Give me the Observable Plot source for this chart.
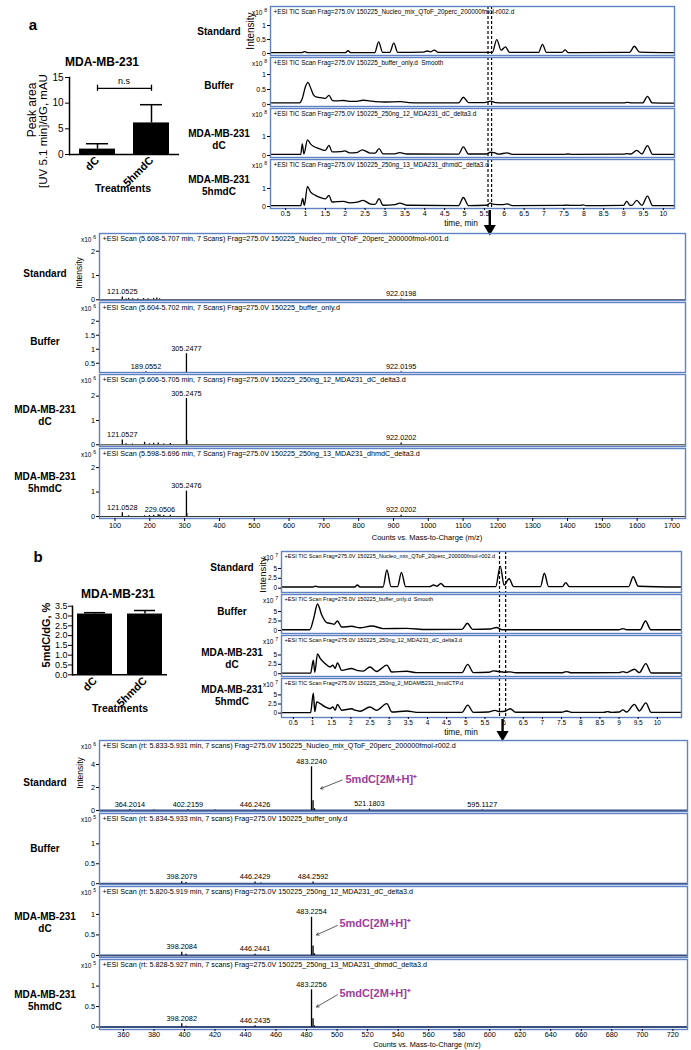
<!DOCTYPE html>
<html><head><meta charset="utf-8">
<script src="https://cdn.jsdelivr.net/npm/d3@7"></script>
<script src="https://cdn.jsdelivr.net/npm/@observablehq/plot@0.6"></script>
<style>
body{margin:0;background:#fff;}
#fig{position:relative;width:691px;height:1050px;overflow:hidden;font-family:"Liberation Sans",Arial,sans-serif;color:#000;background:#fff;}
#fig svg{position:absolute;}
</style></head><body><div id="fig"></div>
<script>
// ---------------- DATA ----------------
const barCategories = ["dC", "5hmdC"];
const barA_values = [1.05, 6.15];
const barA_errTop = [2.1, 9.7];
const barA_nsY = 12.9;
const barA_yTicks = [0, 5, 10, 15];
const barB_values = [3.1, 3.1];
const barB_errTop = [3.17, 3.28];
const barB_yTicks = [0, 0.5, 1, 1.5, 2, 2.5, 3, 3.5];

const ticTicks = [0.5,1,1.5,2,2.5,3,3.5,4,4.5,5,5.5,6,6.5,7,7.5,8,8.5,9,9.5,10];
const ticA_cut = [5.59, 5.68];
const ticB_cut = [5.88, 6.04];

const ticA_standard = [[0.12,0.03],[0.9,0.03],[0.98,0.07],[1.06,0.03],[2.0,0.03],[2.07,0.1],[2.14,0.03],[2.74,0.03],[2.84,0.42],[2.94,0.04],[3.12,0.04],[3.22,0.37],[3.32,0.04],[3.95,0.05],[4.06,0.09],[4.14,0.06],[4.24,0.12],[4.34,0.04],[5.7,0.04],[5.81,0.5],[5.92,0.12],[6.03,0.24],[6.13,0.04],[6.86,0.04],[6.96,0.33],[7.06,0.04],[7.45,0.04],[7.53,0.13],[7.61,0.03],[9.15,0.04],[9.27,0.26],[9.4,0.05],[10.28,0.03]];
const ticA_buffer = [[0.12,0.05],[0.85,0.05],[0.92,0.2],[1.0,0.6],[1.06,0.74],[1.13,0.55],[1.2,0.32],[1.29,0.24],[1.42,0.22],[1.5,0.2],[1.59,0.3],[1.68,0.13],[1.8,0.12],[1.96,0.13],[2.1,0.1],[2.25,0.1],[2.45,0.14],[2.6,0.12],[2.75,0.09],[3.0,0.08],[3.39,0.09],[3.6,0.06],[3.9,0.05],[4.85,0.05],[4.97,0.24],[5.1,0.06],[5.5,0.06],[5.66,0.11],[5.78,0.06],[6.0,0.05],[9.0,0.05],[9.1,0.07],[9.2,0.05],[9.48,0.05],[9.6,0.27],[9.72,0.05],[10.28,0.04]];
const ticA_dC = [[0.12,0.06],[0.88,0.06],[0.92,0.61],[0.96,0.08],[1.05,0.82],[1.13,0.6],[1.21,0.47],[1.34,0.36],[1.42,0.3],[1.5,0.27],[1.59,0.53],[1.67,0.19],[1.87,0.2],[1.99,0.24],[2.11,0.14],[2.28,0.15],[2.43,0.3],[2.62,0.13],[2.75,0.12],[2.85,0.36],[2.95,0.09],[3.25,0.09],[3.37,0.15],[3.55,0.08],[4.85,0.07],[4.97,0.45],[5.1,0.08],[5.55,0.08],[5.65,0.17],[5.74,0.15],[5.86,0.07],[6.07,0.14],[6.2,0.06],[7.5,0.06],[7.6,0.08],[7.7,0.06],[9.0,0.07],[9.08,0.1],[9.18,0.08],[9.33,0.27],[9.46,0.08],[9.6,0.52],[9.73,0.06],[10.28,0.06]];
const ticA_5hmdC = [[0.12,0.05],[0.88,0.05],[0.93,0.45],[0.97,0.06],[1.05,1.12],[1.13,0.8],[1.25,0.62],[1.38,0.49],[1.5,0.42],[1.59,0.62],[1.67,0.25],[1.8,0.27],[1.96,0.28],[2.11,0.2],[2.3,0.24],[2.45,0.34],[2.62,0.15],[2.75,0.12],[2.85,0.44],[2.95,0.07],[3.25,0.1],[3.37,0.19],[3.55,0.07],[4.85,0.05],[4.97,0.5],[5.1,0.05],[5.55,0.07],[5.65,0.19],[5.74,0.12],[5.95,0.1],[6.07,0.15],[6.2,0.05],[7.5,0.06],[7.57,0.08],[7.65,0.06],[7.92,0.06],[7.98,0.09],[8.05,0.05],[9.0,0.06],[9.08,0.3],[9.16,0.06],[9.22,0.08],[9.33,0.34],[9.46,0.06],[9.6,0.58],[9.73,0.05],[10.28,0.05]];

const ticB_standard = [[0.19,0.3],[1.0,0.3],[1.08,0.5],[1.16,0.3],[2.1,0.3],[2.17,0.8],[2.24,0.3],[2.84,0.3],[2.94,4.6],[3.05,0.4],[3.22,0.4],[3.32,4.0],[3.43,0.4],[4.05,0.4],[4.16,0.8],[4.25,0.5],[4.35,1.2],[4.45,0.4],[5.78,0.4],[5.9,5.6],[6.0,0.8],[6.13,2.4],[6.25,0.4],[6.95,0.4],[7.05,3.8],[7.16,0.4],[7.52,0.4],[7.61,1.4],[7.7,0.4],[9.25,0.4],[9.37,2.9],[9.5,0.5],[10.63,0.3]];
const ticB_buffer = [[0.19,0.2],[0.93,0.2],[1.03,3.2],[1.13,7.0],[1.24,4.1],[1.37,2.1],[1.5,1.8],[1.56,1.6],[1.65,2.5],[1.76,0.9],[2.02,1.1],[2.24,0.7],[2.55,1.2],[2.85,0.5],[3.46,0.55],[3.98,0.25],[4.9,0.3],[5.04,1.9],[5.18,0.3],[5.65,0.4],[5.8,0.8],[5.95,0.2],[9.0,0.2],[9.1,0.5],[9.2,0.2],[9.55,0.2],[9.69,2.5],[9.83,0.2],[10.63,0.2]];
const ticB_dC = [[0.19,0.15],[0.95,0.15],[1.02,3.6],[1.06,0.4],[1.13,5.3],[1.2,4.1],[1.33,2.7],[1.46,1.8],[1.53,2.3],[1.59,1.4],[1.65,2.9],[1.76,0.9],[2.02,1.4],[2.15,0.9],[2.32,0.7],[2.5,1.8],[2.67,0.6],[2.94,2.3],[3.07,0.45],[3.46,0.65],[3.72,0.3],[4.9,0.3],[5.05,2.5],[5.2,0.3],[5.6,0.4],[5.72,0.75],[5.85,0.6],[6.0,0.4],[6.16,0.5],[6.3,0.25],[7.5,0.25],[7.63,0.55],[7.76,0.25],[9.0,0.3],[9.1,0.55],[9.2,0.3],[9.4,1.2],[9.53,0.3],[9.7,2.7],[9.84,0.2],[10.63,0.2]];
const ticB_5hmdC = [[0.19,0.15],[0.95,0.15],[1.02,5.5],[1.06,0.4],[1.11,3.1],[1.2,2.6],[1.33,1.7],[1.46,1.2],[1.53,1.7],[1.59,0.8],[1.65,2.4],[1.76,0.8],[2.02,1.2],[2.11,0.8],[2.24,0.5],[2.5,1.7],[2.67,0.8],[2.94,2.6],[3.07,0.3],[3.46,0.6],[3.72,0.2],[4.9,0.2],[5.05,2.2],[5.2,0.2],[5.6,0.3],[5.76,0.75],[5.89,0.4],[6.02,0.5],[6.16,1.2],[6.3,0.25],[7.5,0.25],[7.63,0.6],[7.76,0.2],[8.6,0.2],[8.7,0.4],[8.8,0.2],[9.0,0.3],[9.1,0.9],[9.2,0.3],[9.4,2.4],[9.53,0.6],[9.7,2.8],[9.84,0.2],[10.63,0.2]];

const msA_ticks = [100,200,300,400,500,600,700,800,900,1000,1100,1200,1300,1400,1500,1600,1700];
const msA_standard = [[121.05,0.11,"121.0525"],[132,0.03],[139.05,0.06],[151,0.04],[166,0.03],[182,0.05],[195,0.04],[211,0.05],[220,0.07],[228,0.04],[922.02,0.03,"922.0198"]];
const msA_buffer = [[189.06,0.2,"189.0552"],[305.25,0.84,"305.2477"],[922.02,0.2,"922.0195"]];
const msA_dC = [[121.05,0.2,"121.0527"],[132,0.04],[150,0.03],[185,0.1],[199,0.04],[211,0.06],[224,0.07],[240,0.03],[259,0.05],[305.25,1.9,"305.2475"],[306.25,0.18],[922.02,0.07,"922.0202"]];
const msA_5hmdC = [[121.05,0.16,"121.0528"],[139,0.03],[185,0.03],[199,0.04],[211,0.05],[224,0.07],[229.05,0.06,"229.0506"],[240,0.04],[259,0.05],[305.25,1.04,"305.2476"],[306.25,0.12],[922.02,0.05,"922.0202"]];

const msB_ticks = [360,380,400,420,440,460,480,500,520,540,560,580,600,620,640,660,680,700,720];
const msB_standard = [[364.2,0.07,"364.2014"],[380,0.03],[402.22,0.06,"402.2159"],[420,0.03],[446.24,0.06,"446.2426"],[483.22,3.8,"483.2240"],[484.23,0.85],[485.2,0.15],[521.18,0.12,"521.1803"],[595.11,0.04,"595.1127"]];
const msB_buffer = [[398.21,0.05,"398.2079"],[401,0.03],[446.24,0.04,"446.2429"],[450,0.02],[484.26,0.04,"484.2592"]];
const msB_dC = [[398.21,0.08,"398.2084"],[401,0.03],[446.24,0.03,"446.2441"],[483.23,0.93,"483.2254"],[484.23,0.23],[485.2,0.04]];
const msB_5hmdC = [[398.21,0.08,"398.2082"],[401,0.02],[446.24,0.03,"446.2435"],[483.23,0.91,"483.2256"],[484.23,0.2],[485.2,0.03]];
const msB_annotation = "5mdC[2M+H]\u207A";
// annotation anchors in data units: [textX, textY, arrowFromX, arrowFromY, arrowToX, arrowToY]
const msB_annot_standard = [505.5, 2.7, 503.3, 2.65, 489.2, 1.9];
const msB_annot_dC = [501.5, 0.78, 500.2, 0.73, 486.5, 0.5];
const msB_annot_5hmdC = [501.5, 0.83, 500.2, 0.79, 486.5, 0.49];

const ticA_titles = ["+ESI TIC Scan Frag=275.0V 150225_Nucleo_mix_QToF_20perc_200000fmol-r002.d","+ESI TIC Scan Frag=275.0V 150225_buffer_only.d  Smooth","+ESI TIC Scan Frag=275.0V 150225_250ng_12_MDA231_dC_delta3.d","+ESI TIC Scan Frag=275.0V 150225_250ng_13_MDA231_dhmdC_delta3.d"];
const ticB_titles = ["+ESI TIC Scan Frag=275.0V 150225_Nucleo_mix_QToF_20perc_200000fmol-r002.d","+ESI TIC Scan Frag=275.0V 150225_buffer_only.d  Smooth","+ESI TIC Scan Frag=275.0V 150225_250ng_12_MDA231_dC_delta3.d","+ESI TIC Scan Frag=275.0V 150225_250ng_2_MDAMB231_hmdCTP.d"];
const msA_titles = ["+ESI Scan (5.608-5.707 min, 7 Scans) Frag=275.0V 150225_Nucleo_mix_QToF_20perc_200000fmol-r001.d","+ESI Scan (5.604-5.702 min, 7 Scans) Frag=275.0V 150225_buffer_only.d","+ESI Scan (5.606-5.705 min, 7 Scans) Frag=275.0V 150225_250ng_12_MDA231_dC_delta3.d","+ESI Scan (5.598-5.696 min, 7 Scans) Frag=275.0V 150225_250ng_13_MDA231_dhmdC_delta3.d"];
const msB_titles = ["+ESI Scan (rt: 5.833-5.931 min, 7 scans) Frag=275.0V 150225_Nucleo_mix_QToF_20perc_200000fmol-r002.d","+ESI Scan (rt: 5.834-5.933 min, 7 scans) Frag=275.0V 150225_buffer_only.d","+ESI Scan (rt: 5.820-5.919 min, 7 scans) Frag=275.0V 150225_250ng_12_MDA231_dC_delta3.d","+ESI Scan (rt: 5.828-5.927 min, 7 scans) Frag=275.0V 150225_250ng_13_MDA231_dhmdC_delta3.d"];
const sampleLabels = ["Standard", "Buffer", "MDA-MB-231<br>dC", "MDA-MB-231<br>5hmdC"];

// ---------------- HELPERS ----------------
const BLUE = "#5f82c4";
const FONT = "Liberation Sans, Arial, Helvetica, sans-serif";
const PURPLE = "#9b3d9c";
const fig = document.getElementById("fig");

function addText(html, x, y, o = {}) {
  const d = document.createElement("div");
  d.innerHTML = html;
  const tr = o.anchor === "right" ? "translate(-100%,-50%)" : o.anchor === "left" ? "translate(0,-50%)" : "translate(-50%,-50%)";
  d.style.cssText = `position:absolute;left:${x}px;top:${y}px;transform:${tr}${o.rotate ? " rotate(-90deg)" : ""};white-space:nowrap;text-align:center;font-size:${o.size || 10}px;font-weight:${o.bold ? "bold" : "normal"};line-height:${o.lh || 1.2};color:${o.color || "#000"};`;
  fig.appendChild(d);
}
function place(svg, left, top) {
  svg.style.position = "absolute";
  svg.style.left = left + "px";
  svg.style.top = top + "px";
  fig.appendChild(svg);
}

function tracePanel(p) {
  const ml = 24, mr = 3, mt = 1, mb = p.mb || 1;
  const w = p.x1 - p.x0, h = p.y1 - p.y0;
  const marks = [
    ...(p.marks || []),
    Plot.frame({stroke: BLUE, strokeWidth: 1.4}),
    Plot.axisY({ticks: p.yTicks, tickFormat: d => String(d), tickSize: 3, tickPadding: 1.5, fontSize: p.tickFont, label: null}),
    Plot.text([p.title], {text: d => d, frameAnchor: "top-left", dx: 3, dy: 2.5, lineAnchor: "top", textAnchor: "start", fontSize: p.titleSize})
  ];
  if (p.xTicks) marks.push(Plot.axisX({ticks: p.xTicks, tickFormat: d => String(d), tickSize: p.xTickSize || 3, tickPadding: p.xTickPad || 1, fontSize: p.tickFont, label: null}));
  const svg = Plot.plot({
    width: w + ml + mr, height: h + mt + mb,
    marginLeft: ml, marginRight: mr, marginTop: mt, marginBottom: mb,
    x: p.xTicks ? {domain: p.xDomain} : {domain: p.xDomain, axis: null},
    y: {domain: p.yDomain},
    style: {fontFamily: FONT, fontSize: p.tickFont + "px", overflow: "visible", background: "none"},
    marks
  });
  place(svg, p.x0 - ml, p.y0 - mt);
  addText(`x10 <sup style="font-size:5px">${p.exp}</sup>`, p.x0 - 3, p.y0 + 6, {anchor: "right", size: 6.5});
}

// ---------------- PANEL a : bar chart ----------------
addText("a", 33, 25, {bold: true, size: 15});
addText("MDA-MB-231", 102, 62, {bold: true, size: 12});
{
  const data = barCategories.map((c, i) => ({c, v: barA_values[i], e: barA_errTop[i]}));
  const svg = Plot.plot({
    width: 190, height: 17 + 77 + 45, marginLeft: 69, marginRight: 11, marginTop: 17, marginBottom: 45,
    x: {domain: barCategories, paddingInner: 0.327, paddingOuter: 0.164},
    y: {domain: [0, 15]},
    style: {fontFamily: FONT, fontSize: "10px", overflow: "visible", background: "none"},
    marks: [
      Plot.barY(data, {x: "c", y: "v", fill: "black"}),
      Plot.ruleX(data, {x: "c", y1: "v", y2: "e", strokeWidth: 1.5}),
      Plot.tickY(data, {x: "c", y: "e", strokeWidth: 1.5, insetLeft: 7, insetRight: 7}),
      Plot.link([barCategories], {x1: d => d[0], x2: d => d[1], y1: barA_nsY, y2: barA_nsY, strokeWidth: 1.3}),
      Plot.ruleX(barCategories, {x: d => d, y1: barA_nsY - 0.6, y2: barA_nsY + 0.6, strokeWidth: 1.3}),
      Plot.ruleY([0], {strokeWidth: 1.5}),
      Plot.frame({anchor: "left", strokeWidth: 1.5}),
      Plot.axisY({ticks: barA_yTicks, tickSize: 4, tickPadding: 2, fontSize: 10, label: null}),
      Plot.axisX({tickRotate: -45, tickSize: 0, tickPadding: 4, fontSize: 11, fontWeight: "bold", label: null})
    ]
  });
  place(svg, 0, 60);
}
addText("n.s", 124, 81, {size: 9});
addText("Peak area", 32, 110, {rotate: true, size: 12});
addText("[UV 5.1 min]/dG, mAU", 44, 131, {rotate: true, size: 11.5});
addText("Treatments", 123, 188, {bold: true, size: 10.5});

// ---------------- PANEL a : TIC ----------------
const ticA_series = [ticA_standard, ticA_buffer, ticA_dC, ticA_5hmdC];
const ticA_layout = [[6, 55, [-0.07, 1.68], [0, 0.5, 1]], [57, 106, [-0.07, 1.57], [0, 0.5, 1]], [108, 157, [-0.105, 2.47], [0, 1]], [159, 208, [-0.11, 2.61], [0, 1]]];
ticA_series.forEach((s, i) => {
  const [y0, y1, dom, yt] = ticA_layout[i];
  const last = i === 3;
  const marks = [
    Plot.ruleX(ticA_cut, {x: d => d, strokeDasharray: "3,2", strokeWidth: 1.2}),
    Plot.line(s, {x: d => d[0], y: d => d[1], curve: "monotone-x", strokeWidth: 1.3, clip: true})
  ];
  if (last) {
    const at = (ticA_cut[0] + ticA_cut[1]) / 2;
    marks.push(Plot.ruleX([at], {x: d => d, insetTop: (y1 - y0) + 2, insetBottom: -19, strokeWidth: 2.4}));
    marks.push(Plot.dot([at], {x: d => d, frameAnchor: "bottom", dy: 20, symbol: "triangle", rotate: 180, r: 4.5, fill: "black", stroke: "none"}));
  }
  tracePanel({x0: 270, x1: 674, y0, y1, xDomain: [0.12, 10.28], yDomain: dom, yTicks: yt, title: ticA_titles[i], titleSize: 6.4, tickFont: 7, exp: "8", xTicks: last ? ticTicks : null, xTickSize: 2, xTickPad: 0.5, mb: last ? 28 : 1, marks});
});
addText("time, min", 461, 224, {size: 8.3});
addText("Intensity", 251, 31, {rotate: true, size: 10});
[[32], [86], [139.5], [185.5]].forEach(([y], i) => addText(sampleLabels[i], 219, y, {bold: true, size: 10}));

// ---------------- PANEL a : MS ----------------
const msA_series = [msA_standard, msA_buffer, msA_dC, msA_5hmdC];
const msA_layout = [[233, 300, [-0.03, 2.73], [0, 1, 2]], [302, 372, [0.17, 2.67], [0.5, 1, 1.5, 2]], [374, 446, [-0.07, 2.89], [0, 1, 2]], [448, 518, [-0.08, 2.78], [0, 1, 2]]];
msA_series.forEach((s, i) => {
  const [y0, y1, dom, yt] = msA_layout[i];
  const last = i === 3;
  const marks = [
    Plot.ruleY([0], {strokeWidth: 1, stroke: "#333", clip: true}),
    Plot.ruleX(s, {x: d => d[0], y1: 0, y2: d => d[1], strokeWidth: 1.3, clip: true}),
    Plot.text(s.filter(d => d[2]), {x: d => d[0], y: d => d[1], text: d => d[2], dy: -3, lineAnchor: "bottom", fontSize: 7.3})
  ];
  tracePanel({x0: 99, x1: 685, y0, y1, xDomain: [55.5, 1738.8], yDomain: dom, yTicks: yt, title: msA_titles[i], titleSize: 7.2, tickFont: 7.3, exp: "6", xTicks: last ? msA_ticks : null, mb: last ? 14 : 1, marks});
});
addText("Counts vs. Mass-to-Charge (m/z)", 427, 537, {size: 7.5});
addText("Intensity", 79, 273, {rotate: true, size: 8.5});
[[274], [342], [416], [483]].forEach(([y], i) => addText(sampleLabels[i], 45, y, {bold: true, size: 10}));

// ---------------- PANEL b : bar chart ----------------
addText("b", 38, 557, {bold: true, size: 15});
addText("MDA-MB-231", 118, 594, {bold: true, size: 12});
{
  const data = barCategories.map((c, i) => ({c, v: barB_values[i], e: barB_errTop[i]}));
  const svg = Plot.plot({
    width: 177, height: 10.7 + 68.6 + 40, marginLeft: 72, marginRight: 10, marginTop: 10.7, marginBottom: 40,
    x: {domain: barCategories, paddingInner: 0.3, paddingOuter: 0.1},
    y: {domain: [0, 3.5]},
    style: {fontFamily: FONT, fontSize: "9px", overflow: "visible", background: "none"},
    marks: [
      Plot.barY(data, {x: "c", y: "v", fill: "black"}),
      Plot.ruleX(data, {x: "c", y1: "v", y2: "e", strokeWidth: 1.5}),
      Plot.tickY(data, {x: "c", y: "e", strokeWidth: 1.5, insetLeft: 7, insetRight: 7}),
      Plot.ruleY([0], {strokeWidth: 1.5}),
      Plot.frame({anchor: "left", strokeWidth: 1.5}),
      Plot.axisY({ticks: barB_yTicks, tickFormat: d3.format(".1f"), tickSize: 4, tickPadding: 1, fontSize: 9, label: null}),
      Plot.axisX({tickRotate: -45, tickSize: 0, tickPadding: 4, fontSize: 11, fontWeight: "bold", label: null})
    ]
  });
  place(svg, 0, 595);
}
addText("5mdC/dG, %", 47, 635, {rotate: true, size: 11, bold: true});
addText("Treatments", 120, 708, {bold: true, size: 10.5});

// ---------------- PANEL b : TIC ----------------
const ticB_series = [ticB_standard, ticB_buffer, ticB_dC, ticB_5hmdC];
const ticB_layout = [[551, 592, [-1.1, 9.3]], [594, 633, [-0.8, 9.5]], [635, 676, [-0.74, 10.2]], [678, 717, [-1.2, 9.5]]];
ticB_series.forEach((s, i) => {
  const [y0, y1, dom] = ticB_layout[i];
  const last = i === 3;
  const marks = [
    Plot.ruleX(ticB_cut, {x: d => d, strokeDasharray: "3,2", strokeWidth: 1.2}),
    Plot.line(s, {x: d => d[0], y: d => d[1], curve: "monotone-x", strokeWidth: 1.4, clip: true})
  ];
  if (last) {
    const at = (ticB_cut[0] + ticB_cut[1]) / 2;
    marks.push(Plot.ruleX([at], {x: d => d, insetTop: (y1 - y0) + 2, insetBottom: -16, strokeWidth: 2.4}));
    marks.push(Plot.dot([at], {x: d => d, frameAnchor: "bottom", dy: 17, symbol: "triangle", rotate: 180, r: 4.5, fill: "black", stroke: "none"}));
  }
  tracePanel({x0: 281, x1: 681, y0, y1, xDomain: [0.19, 10.63], yDomain: dom, yTicks: [0, 2.5, 5], title: ticB_titles[i], titleSize: 5.6, tickFont: 6.5, exp: "7", xTicks: last ? ticTicks : null, xTickSize: 2, xTickPad: 0.5, mb: last ? 24 : 1, marks});
});
addText("time, min", 461, 733, {size: 8.3});
addText("Intensity", 263, 575, {rotate: true, size: 9.5});
[[568], [612], [658.5], [696]].forEach(([y], i) => addText(sampleLabels[i], 232, y, {bold: true, size: 10}));

// ---------------- PANEL b : MS ----------------
const msB_series = [msB_standard, msB_buffer, msB_dC, msB_5hmdC];
const msB_layout = [[740, 811, [-0.09, 6.09], [0, 2, 4], "6"], [813, 884, [-0.02, 1.76], [0, 0.5, 1], "5"], [886, 957, [-0.05, 1.68], [0, 0.5, 1], "5"], [959, 1029, [-0.06, 1.65], [0, 0.5, 1], "5"]];
const msB_annots = [msB_annot_standard, null, msB_annot_dC, msB_annot_5hmdC];
msB_series.forEach((s, i) => {
  const [y0, y1, dom, yt, exp] = msB_layout[i];
  const last = i === 3;
  const marks = [
    Plot.ruleY([0], {strokeWidth: 2, stroke: "#3b4f7e", clip: true}),
    Plot.ruleX(s, {x: d => d[0], y1: 0, y2: d => d[1], strokeWidth: 1.3, clip: true}),
    Plot.text(s.filter(d => d[2]), {x: d => d[0], y: d => d[1], text: d => d[2], dy: -3, lineAnchor: "bottom", fontSize: 7.3})
  ];
  const a = msB_annots[i];
  if (a) {
    marks.push(Plot.text([a], {x: d => d[0], y: d => d[1], text: () => msB_annotation, textAnchor: "start", fill: PURPLE, fontWeight: "bold", fontSize: 11}));
    marks.push(Plot.arrow([a], {x1: d => d[2], y1: d => d[3], x2: d => d[4], y2: d => d[5], stroke: "#333", strokeWidth: 0.8, headLength: 5, bend: 0}));
  }
  tracePanel({x0: 99, x1: 687, y0, y1, xDomain: [344.3, 729.6], yDomain: dom, yTicks: yt, title: msB_titles[i], titleSize: 7.2, tickFont: 7.3, exp, xTicks: last ? msB_ticks : null, xTickSize: 2, xTickPad: 0.5, mb: last ? 12 : 1, marks});
});
addText("Counts vs. Mass-to-Charge (m/z)", 427, 1044.5, {size: 7.3});
addText("Intensity", 80, 773, {rotate: true, size: 8.5});
[[783], [849], [922.5], [1001]].forEach(([y], i) => addText(sampleLabels[i], 45, y, {bold: true, size: 10}));
</script></body></html>
